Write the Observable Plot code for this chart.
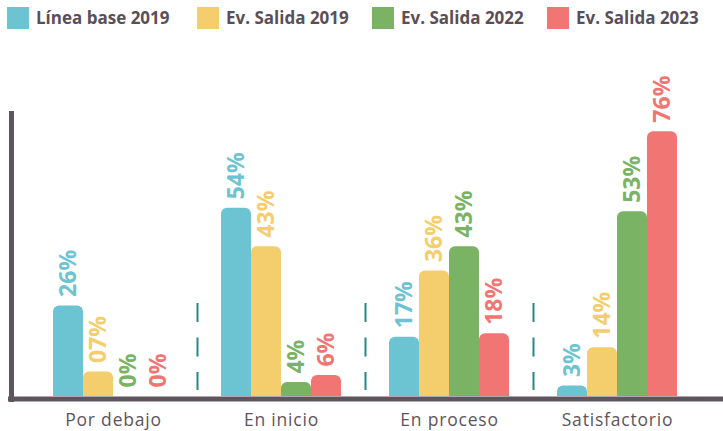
<!DOCTYPE html>
<html>
<head>
<meta charset="utf-8">
<script src="https://cdn.jsdelivr.net/npm/d3@7"></script>
<script src="https://cdn.jsdelivr.net/npm/@observablehq/plot@0.6"></script>
<style>
  html, body { margin: 0; padding: 0; background: #ffffff; }
  body { font-family: "Open Sans", sans-serif; width: 723px; height: 431px; overflow: hidden; }
  #legend { position: relative; height: 36px; }
  #legend .item { position: absolute; top: 7px; display: flex; align-items: center; height: 22px; white-space: nowrap; }
  #legend .item:nth-child(1) { left: 7px; }
  #legend .item:nth-child(2) { left: 197px; }
  #legend .item:nth-child(3) { left: 372px; }
  #legend .item:nth-child(4) { left: 547px; }
  #legend .sw { width: 22px; height: 22px; margin-right: 7px; }
  #legend .lab { font-weight: 700; font-size: 17px; color: #5a4f58; line-height: 22px; }
  #chart svg g[aria-label="fx-axis tick label"] text { letter-spacing: 0.8px; }
</style>
</head>
<body>
<div id="legend"></div>
<div id="chart"></div>
<script>
// ---- Data ----
const categories = ["Por debajo", "En inicio", "En proceso", "Satisfactorio"];
const series = ["Línea base 2019", "Ev. Salida 2019", "Ev. Salida 2022", "Ev. Salida 2023"];
const colors = ["#6cc4d3", "#f4cd6c", "#7ab364", "#f17673"];

const lineaBase2019 = [26, 54, 17, 3];
const salida2019 = [7, 43, 36, 14];
const salida2022 = [0, 4, 43, 53];
const salida2023 = [0, 6, 18, 76];

const labelsLineaBase2019 = ["26%", "54%", "17%", "3%"];
const labelsSalida2019 = ["07%", "43%", "36%", "14%"];
const labelsSalida2022 = ["0%", "4%", "43%", "53%"];
const labelsSalida2023 = ["0%", "6%", "18%", "76%"];

// ---- Build table ----
const seriesValues = [lineaBase2019, salida2019, salida2022, salida2023];
const seriesLabels = [labelsLineaBase2019, labelsSalida2019, labelsSalida2022, labelsSalida2023];
const rows = [];
series.forEach((s, si) => {
  categories.forEach((c, ci) => {
    rows.push({category: c, series: s, value: seriesValues[si][ci], label: seriesLabels[si][ci]});
  });
});

// ---- Legend ----
const legend = document.getElementById("legend");
series.forEach((s, i) => {
  const item = document.createElement("div");
  item.className = "item";
  const sw = document.createElement("div");
  sw.className = "sw";
  sw.style.background = colors[i];
  const lab = document.createElement("span");
  lab.className = "lab";
  lab.textContent = s;
  item.appendChild(sw);
  item.appendChild(lab);
  legend.appendChild(item);
});

// ---- Chart ----
const axisColor = "#5f555d";
const first = categories[0];
const last = categories[categories.length - 1];
const chart = Plot.plot({
  width: 723,
  height: 395,
  marginTop: 76,
  marginBottom: 35,
  marginLeft: 14,
  marginRight: 0,
  style: {fontFamily: "'Open Sans', sans-serif", background: "transparent", overflow: "visible"},
  fx: {domain: categories, paddingInner: 48 / 168, paddingOuter: 0.25, align: 0.4588, label: null},
  x: {domain: series, padding: 0, axis: null},
  y: {domain: [0, 81.5], axis: null},
  color: {domain: series, range: colors},
  marks: [
    // dashed separators between groups
    Plot.ruleX(categories.slice(1), {
      fx: d => d, x: () => series[0], dx: -39,
      stroke: "#1f8a8a", strokeWidth: 2, strokeDasharray: "19,15.5",
      insetTop: 191, insetBottom: 6
    }),
    Plot.barY(rows, {
      fx: "category", x: "series", y: "value", fill: "series",
      rx: 6, insetBottom: -8, clip: true
    }),
    Plot.text(rows, {
      fx: "category", x: "series", y: "value", text: "label", fill: "series",
      rotate: -90, textAnchor: "start", lineAnchor: "middle", dy: -9,
      fontSize: 23, fontWeight: 700
    }),
    // baseline: one segment per group covering half of each gap, plus the two outer ends
    Plot.ruleY([0], {stroke: axisColor, strokeWidth: 5, dy: 2.5, insetLeft: -24, insetRight: -24}),
    Plot.ruleY([first], {fx: d => d, y: () => 0, stroke: axisColor, strokeWidth: 5, dy: 2.5, insetLeft: -45, insetRight: 144}),
    Plot.ruleY([last], {fx: d => d, y: () => 0, stroke: axisColor, strokeWidth: 5, dy: 2.5, insetLeft: 144, insetRight: -46}),
    // left axis line, drawn once in the first group
    Plot.ruleX([first], {
      fx: d => d, x: () => series[0], dx: -57,
      stroke: axisColor, strokeWidth: 5, insetTop: -1, insetBottom: -6
    }),
    Plot.axisFx({anchor: "bottom", tickSize: 0, tickPadding: 17, fontSize: 17.5, label: null, fill: "#5e545c"})
  ]
});
document.getElementById("chart").appendChild(chart);
</script>
</body>
</html>
